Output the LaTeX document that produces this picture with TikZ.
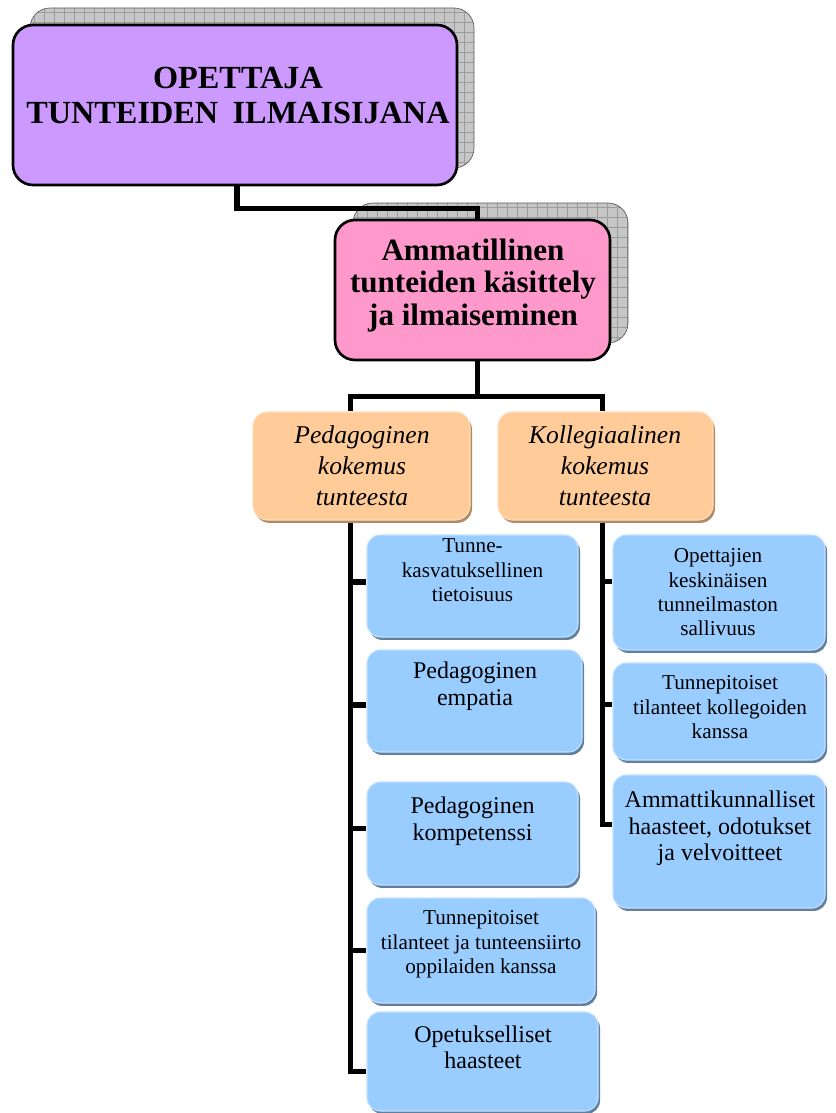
\documentclass[tikz,border=0pt]{standalone}
\usepackage{fontspec}
\setmainfont{Liberation Serif}
\usetikzlibrary{fit,shadows,backgrounds}

\definecolor{violetbox}{HTML}{CC99FF}
\definecolor{pinkbox}{HTML}{FF99CC}
\definecolor{peachbox}{HTML}{FFCC99}
\definecolor{peachedge}{HTML}{FFDDBB}
\definecolor{peachshade}{HTML}{B08B66}
\definecolor{skybox}{HTML}{99CCFF}
\definecolor{skyedge}{HTML}{C2E0FF}
\definecolor{skyshade}{HTML}{61809F}
\definecolor{gridfill}{HTML}{C6C6C6}
\definecolor{gridline}{HTML}{9C9C9C}

\tikzset{
  headbox/.style={draw=black, line width=2pt, rounded corners=15pt, inner sep=0pt},
  catbox/.style={fill=peachbox, draw=peachedge, line width=0.8pt, rounded corners=11pt,
    inner sep=0pt, drop shadow={shadow xshift=1.5pt, shadow yshift=-2.2pt, fill=peachshade, opacity=1}},
  itembox/.style={fill=skybox, draw=skyedge, line width=0.8pt, rounded corners=10pt,
    inner sep=0pt, drop shadow={shadow xshift=1.5pt, shadow yshift=-2.2pt, fill=skyshade, opacity=1}},
  link/.style={line width=3.8pt, line join=miter},
  headtext/.style={anchor=north, align=center, inner sep=0pt, font=\fontsize{24.2pt}{26.3pt}\selectfont\bfseries},
  maintext/.style={anchor=north, align=center, inner sep=0pt, font=\fontsize{23.3pt}{24.4pt}\selectfont\bfseries},
  cattext/.style={anchor=north, align=center, inner sep=0pt, font=\fontsize{19.2pt}{23.25pt}\selectfont\itshape},
  bigtext/.style={anchor=north, align=center, inner sep=0pt, font=\fontsize{18pt}{19.9pt}\selectfont},
  smalltext/.style={anchor=north, align=center, inner sep=0pt, font=\fontsize{15.9pt}{18.2pt}\selectfont},
}

\begin{document}
\begin{tikzpicture}[x=0.75pt,y=-0.75pt]
\useasboundingbox (0,0) rectangle (835,1113);

% boxes
\node[headbox, fill=violetbox, fit={(13,25) (457,185)}] (title) {};
\node[headbox, fill=pinkbox, fit={(335,220) (610,360)}] (main) {};
\node[catbox, fit={(253,412) (470,520)}] (ped) {};
\node[catbox, fit={(498,412) (713,520)}] (kol) {};

% item boxes, left column
\node[itembox, fit={(367,535) (578,637)}] (l1) {};
\node[itembox, fit={(367,650) (582,752)}] (l2) {};
\node[itembox, fit={(367,782) (578,885)}] (l3) {};
\node[itembox, fit={(367,898) (595,1003)}] (l4) {};
\node[itembox, fit={(367,1012) (598,1111)}] (l5) {};
% item boxes, right column
\node[itembox, fit={(613,535) (825,650)}] (r1) {};
\node[itembox, fit={(613,663) (825,760)}] (r2) {};
\node[itembox, fit={(613,775) (825,908)}] (r3) {};

\begin{scope}[on background layer]
  % hatched shadows behind the two upper boxes
  \begin{scope}
    \clip[rounded corners=15pt] (30,8) rectangle (474,168);
    \fill[gridfill] (30,8) rectangle (474,168);
    \foreach \gx in {34,44,...,474} \draw[gridline, line width=0.5pt] (\gx,0) -- (\gx,175);
    \foreach \gy in {12,22,...,172} \draw[gridline, line width=0.5pt] (25,\gy) -- (480,\gy);
  \end{scope}
  \draw[gray!70!black, line width=0.5pt, rounded corners=15pt] (30,8) rectangle (474,168);

  \begin{scope}
    \clip[rounded corners=15pt] (353,203) rectangle (628,343);
    \fill[gridfill] (353,203) rectangle (628,343);
    \foreach \gx in {357,367,...,628} \draw[gridline, line width=0.5pt] (\gx,200) -- (\gx,345);
    \foreach \gy in {207,217,...,343} \draw[gridline, line width=0.5pt] (350,\gy) -- (630,\gy);
  \end{scope}
  \draw[gray!70!black, line width=0.5pt, rounded corners=15pt] (353,203) rectangle (628,343);

  % connectors between the levels
  \draw[link] ([xshift=1.5pt]title.south) -- ++(0,22) -| ([xshift=3.4pt]main.north);
  \draw[link] ([xshift=3.4pt]main.south) -- ++(0,35) coordinate (split)
    -| ([xshift=-8.6pt]ped.north);
  \draw[link] (split) -| ([xshift=-2.6pt]kol.north);

  % column buses and branches
  \draw[link] ([xshift=-8.6pt]ped.south) |- ([yshift=-7.5pt]l5.west);
  \draw[link] ([yshift=3pt]l1.west) -- ++(-17,0);
  \draw[link] ([yshift=-3pt]l2.west) -- ++(-17,0);
  \draw[link] ([yshift=4pt]l3.west) -- ++(-17,0);
  \draw[link] (l4.west) -- ++(-17,0);

  \draw[link] ([xshift=-2.6pt]kol.south) |- ([yshift=12.5pt]r3.west);
  \draw[link] ([yshift=8pt]r1.west) -- ++(-10,0);
  \draw[link] ([yshift=5pt]r2.west) -- ++(-10,0);
\end{scope}

% texts
\node[headtext] (titleT) at (238,67) {OPETTAJA\\TUNTEIDEN\hspace{0.45em}ILMAISIJANA};
\node[maintext] (mainT) at (473,238.6) {Ammatillinen\\tunteiden käsittely\\ja ilmaiseminen};
\node[cattext] (pedT) at (362,425.6) {Pedagoginen\\kokemus\\tunteesta};
\node[cattext] (kolT) at (605,425.6) {Kollegiaalinen\\kokemus\\tunteesta};

\node[smalltext] (l1T) at (472.5,538.6) {Tunne-\\kasvatuksellinen\\tietoisuus};
\node[bigtext] (l2T) at (475,661.7) {Pedagoginen\\empatia};
\node[bigtext] (l3T) at (472.5,796.7) {Pedagoginen\\kompetenssi};
\node[smalltext] (l4T) at (481,910.6) {Tunnepitoiset\\tilanteet ja tunteensiirto\\oppilaiden kanssa};
\node[bigtext] (l5T) at (483,1025.4) {Opetukselliset\\haasteet};

\node[smalltext] (r1T) at (718,548.6) {Opettajien\\keskinäisen\\tunneilmaston\\sallivuus};
\node[smalltext] (r2T) at (720,675.6) {Tunnepitoiset\\tilanteet kollegoiden\\kanssa};
\node[bigtext] (r3T) at (720,790.7) {Ammattikunnalliset\\haasteet, odotukset\\ja velvoitteet};
\end{tikzpicture}
\end{document}
